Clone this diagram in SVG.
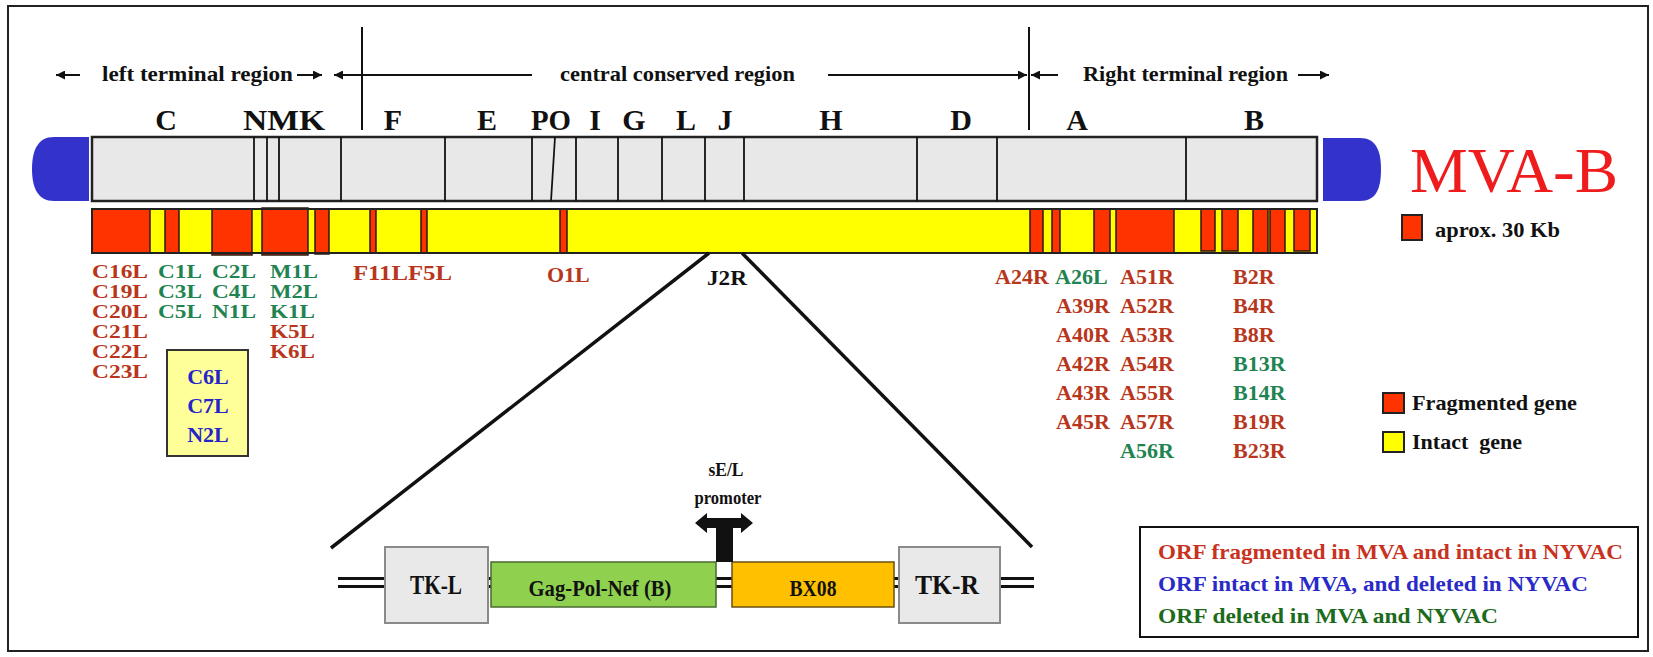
<svg xmlns="http://www.w3.org/2000/svg" width="1653" height="657" viewBox="0 0 1653 657">
<style>
.t{font-family:"Liberation Serif","Times New Roman",serif;font-weight:bold}
.hdr{font-size:21px;fill:#111}
.let{font-size:30px;fill:#111;text-anchor:middle}
.g{font-size:22px}
.s{font-size:19px}
.r{fill:#b8361c}
.gr{fill:#1f8452}
.b{fill:#2525c8}
.red{fill:#ff3300;stroke:#2a1a10;stroke-width:1.5}
.div{stroke:#111;stroke-width:1.8}
.ln{stroke:#111;stroke-width:2;fill:none}
.tk{fill:#e9e9e9;stroke:#8a8a8a;stroke-width:2}
</style>
<defs>
<marker id="arr" viewBox="0 0 10 10" refX="10" refY="5" markerWidth="11" markerHeight="9" markerUnits="userSpaceOnUse" orient="auto">
<path d="M0,0 L10,5 L0,10 z" fill="#111"/>
</marker>
</defs>
<rect x="0" y="0" width="1653" height="657" fill="#fff"/>
<rect id="frame" x="8" y="6" width="1640" height="645" fill="#fff" stroke="#222" stroke-width="2"/>

<g id="region-header">
<line class="ln" x1="80" y1="75" x2="56" y2="75" marker-end="url(#arr)"/>
<text class="t hdr" x="102" y="81" textLength="191" lengthAdjust="spacingAndGlyphs">left terminal region</text>
<line class="ln" x1="297" y1="75" x2="322" y2="75" marker-end="url(#arr)"/>
<line class="ln" x1="532" y1="75" x2="334" y2="75" marker-end="url(#arr)"/>
<line class="ln" x1="362" y1="27" x2="362" y2="130"/>
<text class="t hdr" x="560" y="81" textLength="235" lengthAdjust="spacingAndGlyphs">central conserved region</text>
<line class="ln" x1="828" y1="75" x2="1027" y2="75" marker-end="url(#arr)"/>
<line class="ln" x1="1029" y1="27" x2="1029" y2="130"/>
<line class="ln" x1="1058" y1="75" x2="1031" y2="75" marker-end="url(#arr)"/>
<text class="t hdr" x="1083" y="81" textLength="205" lengthAdjust="spacingAndGlyphs">Right terminal region</text>
<line class="ln" x1="1298" y1="75" x2="1329" y2="75" marker-end="url(#arr)"/>
</g>

<g id="segment-letters">
<text class="t let" x="166" y="130">C</text>
<text class="t let" x="284" y="130" textLength="82" lengthAdjust="spacingAndGlyphs">NMK</text>
<text class="t let" x="393" y="130">F</text>
<text class="t let" x="487" y="130">E</text>
<text class="t let" x="551" y="130" textLength="40" lengthAdjust="spacingAndGlyphs">PO</text>
<text class="t let" x="595" y="130">I</text>
<text class="t let" x="634" y="130">G</text>
<text class="t let" x="686" y="130">L</text>
<text class="t let" x="725" y="130">J</text>
<text class="t let" x="831" y="130">H</text>
<text class="t let" x="961" y="130">D</text>
<text class="t let" x="1077" y="130">A</text>
<text class="t let" x="1254" y="130">B</text>
</g>

<g id="genome-bar">
<path d="M89,137 L54,137 C38,137 32,150 32,169 C32,188 38,201 54,201 L89,201 Z" fill="#3333cc"/>
<path d="M1323,138 L1360,138 C1376,138 1381,151 1381,169 C1381,189 1376,201 1360,201 L1323,201 Z" fill="#3333cc"/>
<rect x="92" y="137" width="1225" height="64" fill="#e8e8e8" stroke="#222" stroke-width="2.5"/>
<g class="div">
<line x1="254" y1="137" x2="254" y2="201"/>
<line x1="267" y1="137" x2="267" y2="201"/>
<line x1="279" y1="137" x2="279" y2="201"/>
<line x1="341" y1="137" x2="341" y2="201"/>
<line x1="445" y1="137" x2="445" y2="201"/>
<line x1="532" y1="137" x2="532" y2="201"/>
<line x1="555" y1="137" x2="551" y2="201"/>
<line x1="576" y1="137" x2="576" y2="201"/>
<line x1="618" y1="137" x2="618" y2="201"/>
<line x1="662" y1="137" x2="662" y2="201"/>
<line x1="705" y1="137" x2="705" y2="201"/>
<line x1="744" y1="137" x2="744" y2="201"/>
<line x1="917" y1="137" x2="917" y2="201"/>
<line x1="997" y1="137" x2="997" y2="201"/>
<line x1="1186" y1="137" x2="1186" y2="201"/>
</g>
</g>

<g id="gene-bar">
<rect x="92" y="209" width="1225" height="44" fill="#ffff00"/>
<rect class="red" x="92" y="209" width="58" height="44"/>
<rect class="red" x="165" y="209" width="14" height="44"/>
<rect class="red" x="212" y="209" width="40" height="46" stroke-width="2"/>
<rect class="red" x="262" y="208" width="46" height="47" stroke-width="2"/>
<rect class="red" x="315" y="209" width="14" height="45" stroke-width="2"/>
<rect class="red" x="370" y="209" width="6" height="44"/>
<rect class="red" x="421" y="209" width="6" height="44"/>
<rect class="red" x="560" y="209" width="7" height="44"/>
<rect class="red" x="1030" y="209" width="13" height="44"/>
<rect class="red" x="1052" y="209" width="8" height="44"/>
<rect class="red" x="1094" y="209" width="16" height="44"/>
<rect class="red" x="1116" y="209" width="58" height="44"/>
<rect class="red" x="1201" y="209" width="14" height="42" stroke-width="2"/>
<rect class="red" x="1222" y="209" width="16" height="42" stroke-width="2"/>
<rect class="red" x="1253" y="209" width="15" height="44"/>
<rect class="red" x="1270" y="209" width="15" height="44"/>
<rect class="red" x="1294" y="209" width="16" height="42" stroke-width="2"/>
<rect x="92" y="209" width="1225" height="44" fill="none" stroke="#222" stroke-width="2"/>
</g>

<g id="title">
<text x="1410" y="192" font-family="'Liberation Serif','Times New Roman',serif" font-size="64" fill="#ee1c1c" textLength="208" lengthAdjust="spacingAndGlyphs">MVA-B</text>
</g>

<g id="legend-30kb">
<rect x="1402" y="215" width="20" height="25" fill="#ff3300" stroke="#222" stroke-width="2"/>
<text class="t" x="1435" y="237" font-size="20" fill="#111" textLength="125" lengthAdjust="spacingAndGlyphs">aprox. 30 Kb</text>
</g>

<g id="labels-left" class="t s">
<text class="r" x="92" y="278" textLength="56" lengthAdjust="spacingAndGlyphs">C16L</text>
<text class="r" x="92" y="298" textLength="56" lengthAdjust="spacingAndGlyphs">C19L</text>
<text class="r" x="92" y="318" textLength="56" lengthAdjust="spacingAndGlyphs">C20L</text>
<text class="r" x="92" y="338" textLength="56" lengthAdjust="spacingAndGlyphs">C21L</text>
<text class="r" x="92" y="358" textLength="56" lengthAdjust="spacingAndGlyphs">C22L</text>
<text class="r" x="92" y="378" textLength="56" lengthAdjust="spacingAndGlyphs">C23L</text>
<text class="gr" x="158" y="278" textLength="44" lengthAdjust="spacingAndGlyphs">C1L</text>
<text class="gr" x="158" y="298" textLength="44" lengthAdjust="spacingAndGlyphs">C3L</text>
<text class="gr" x="158" y="318" textLength="44" lengthAdjust="spacingAndGlyphs">C5L</text>
<text class="gr" x="212" y="278" textLength="44" lengthAdjust="spacingAndGlyphs">C2L</text>
<text class="gr" x="212" y="298" textLength="44" lengthAdjust="spacingAndGlyphs">C4L</text>
<text class="gr" x="212" y="318" textLength="44" lengthAdjust="spacingAndGlyphs">N1L</text>
<text class="gr" x="270" y="278" textLength="48" lengthAdjust="spacingAndGlyphs">M1L</text>
<text class="gr" x="270" y="298" textLength="48" lengthAdjust="spacingAndGlyphs">M2L</text>
<text class="gr" x="270" y="318" textLength="45" lengthAdjust="spacingAndGlyphs">K1L</text>
<text class="r" x="270" y="338" textLength="45" lengthAdjust="spacingAndGlyphs">K5L</text>
<text class="r" x="270" y="358" textLength="45" lengthAdjust="spacingAndGlyphs">K6L</text>
</g>
<g id="labels-mid" class="t g">
<text class="r" x="353" y="280" textLength="99" lengthAdjust="spacingAndGlyphs">F11LF5L</text>
<text class="r" x="547" y="282">O1L</text>
</g>

<g id="box-c6l">
<rect x="167" y="350" width="81" height="106" fill="#ffff99" stroke="#333" stroke-width="2"/>
<text class="t g b" x="208" y="384" text-anchor="middle">C6L</text>
<text class="t g b" x="208" y="413" text-anchor="middle">C7L</text>
<text class="t g b" x="208" y="442" text-anchor="middle">N2L</text>
</g>

<g id="labels-right" class="t g">
<text class="r" x="995" y="284">A24R</text>
<text class="gr" x="1055" y="284">A26L</text>
<text class="r" x="1120" y="284">A51R</text>
<text class="r" x="1056" y="313">A39R</text>
<text class="r" x="1056" y="342">A40R</text>
<text class="r" x="1056" y="371">A42R</text>
<text class="r" x="1056" y="400">A43R</text>
<text class="r" x="1056" y="429">A45R</text>
<text class="r" x="1120" y="313">A52R</text>
<text class="r" x="1120" y="342">A53R</text>
<text class="r" x="1120" y="371">A54R</text>
<text class="r" x="1120" y="400">A55R</text>
<text class="r" x="1120" y="429">A57R</text>
<text class="gr" x="1120" y="458">A56R</text>
<text class="r" x="1233" y="284">B2R</text>
<text class="r" x="1233" y="313">B4R</text>
<text class="r" x="1233" y="342">B8R</text>
<text class="gr" x="1233" y="371">B13R</text>
<text class="gr" x="1233" y="400">B14R</text>
<text class="r" x="1233" y="429">B19R</text>
<text class="r" x="1233" y="458">B23R</text>
</g>

<g id="legend-genes">
<rect x="1383" y="393" width="21" height="20" fill="#ff3300" stroke="#222" stroke-width="2"/>
<text class="t" x="1412" y="410" font-size="22" fill="#111" textLength="165" lengthAdjust="spacingAndGlyphs">Fragmented gene</text>
<rect x="1383" y="432" width="21" height="20" fill="#ffff00" stroke="#222" stroke-width="2"/>
<text class="t" x="1412" y="449" font-size="22" fill="#111" xml:space="preserve" textLength="110" lengthAdjust="spacingAndGlyphs">Intact  gene</text>
</g>

<g id="connectors">
<line x1="709" y1="253" x2="331" y2="548" stroke="#111" stroke-width="3.5"/>
<line x1="742" y1="253" x2="1032" y2="547" stroke="#111" stroke-width="3.5"/>
</g>

<g id="j2r-label">
<text class="t g" x="707" y="285" fill="#111" textLength="40" lengthAdjust="spacingAndGlyphs">J2R</text>
</g>

<g id="insert">
<line x1="338" y1="578.5" x2="1034" y2="578.5" stroke="#111" stroke-width="3"/>
<line x1="338" y1="586.5" x2="1034" y2="586.5" stroke="#111" stroke-width="3"/>
<g id="tk-l">
<rect class="tk" x="385" y="547" width="103" height="76"/>
<text class="t" x="436" y="594" font-size="28" fill="#111" text-anchor="middle" textLength="52" lengthAdjust="spacingAndGlyphs">TK-L</text>
</g>
<g id="gag-pol-nef">
<rect x="491" y="562" width="225" height="45" fill="#8fd14f" stroke="#4a6a30" stroke-width="1.5"/>
<text class="t" x="600" y="596" font-size="24" fill="#111" text-anchor="middle" textLength="143" lengthAdjust="spacingAndGlyphs">Gag-Pol-Nef (B)</text>
</g>
<g id="bx08">
<rect x="732" y="562" width="162" height="45" fill="#ffc000" stroke="#6a5010" stroke-width="1.5"/>
<text class="t" x="813" y="596" font-size="24" fill="#111" text-anchor="middle" textLength="47" lengthAdjust="spacingAndGlyphs">BX08</text>
</g>
<g id="tk-r">
<rect class="tk" x="899" y="547" width="101" height="76"/>
<text class="t" x="947" y="594" font-size="28" fill="#111" text-anchor="middle" textLength="64" lengthAdjust="spacingAndGlyphs">TK-R</text>
</g>
<g id="promoter">
<path d="M695,523 L707,513 L707,518 L741,518 L741,513 L753,523 L741,533 L741,528 L707,528 L707,533 Z" fill="#111"/>
<rect x="716" y="526" width="17" height="36" fill="#111"/>
<text class="t" x="726" y="476" font-size="18" fill="#111" text-anchor="middle" textLength="35" lengthAdjust="spacingAndGlyphs">sE/L</text>
<text class="t" x="728" y="504" font-size="18" fill="#111" text-anchor="middle" textLength="67" lengthAdjust="spacingAndGlyphs">promoter</text>
</g>
</g>

<g id="orf-legend">
<rect x="1140" y="527" width="498" height="110" fill="#fff" stroke="#111" stroke-width="2"/>
<text class="t" x="1158" y="559" font-size="22" fill="#c8321e" textLength="465" lengthAdjust="spacingAndGlyphs">ORF fragmented in MVA and intact in NYVAC</text>
<text class="t" x="1158" y="591" font-size="22" fill="#2a2ac8" textLength="430" lengthAdjust="spacingAndGlyphs">ORF intact in MVA, and deleted in NYVAC</text>
<text class="t" x="1158" y="623" font-size="22" fill="#1b6b1b" textLength="340" lengthAdjust="spacingAndGlyphs">ORF deleted in MVA and NYVAC</text>
</g>
</svg>
